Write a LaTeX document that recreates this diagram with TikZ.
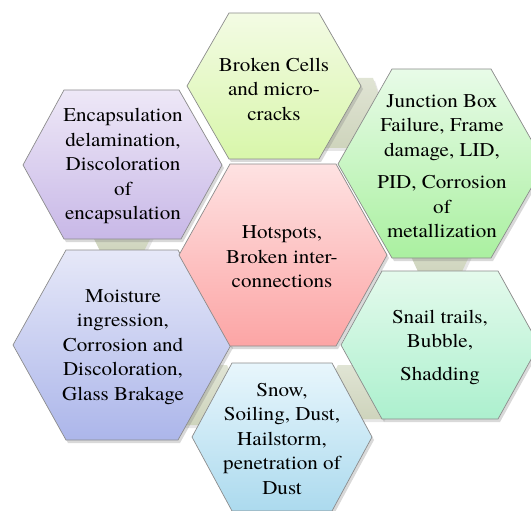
\documentclass[tikz,border=0pt]{standalone}
\usepackage{fontspec}
\setmainfont{texgyretermes}[Extension=.otf,UprightFont=*-regular,FakeStretch=1.08]
\usetikzlibrary{shadows}
\definecolor{pinkA}{RGB}{254,226,226}\definecolor{pinkB}{RGB}{252,165,165}
\definecolor{limeA}{RGB}{243,251,228}\definecolor{limeB}{RGB}{216,246,170}
\definecolor{lilaA}{RGB}{238,232,247}\definecolor{lilaB}{RGB}{200,184,231}
\definecolor{leafA}{RGB}{232,251,232}\definecolor{leafB}{RGB}{170,240,160}
\definecolor{mintA}{RGB}{228,250,236}\definecolor{mintB}{RGB}{172,240,206}
\definecolor{skyA}{RGB}{232,246,252}\definecolor{skyB}{RGB}{172,218,238}
\definecolor{blueA}{RGB}{230,232,248}\definecolor{blueB}{RGB}{172,182,234}
\definecolor{khakiA}{RGB}{224,228,212}\definecolor{khakiB}{RGB}{206,212,188}
\begin{document}
\begin{tikzpicture}[x=1pt,y=-1pt,
    hexa/.style={draw=black!45,line width=0.7pt,
      drop shadow={shadow xshift=2pt,shadow yshift=-3pt,opacity=0.3}},
    link/.style={draw=none,top color=khakiA,bottom color=khakiB,
      drop shadow={shadow xshift=2pt,shadow yshift=-3pt,opacity=0.2}},
    txt/.style={align=center,inner sep=0pt,font=\rmfamily\fontsize{19.5}{24.5}\selectfont}]
  \useasboundingbox (0,0) rectangle (531,511);
  %raccordi
  \path[link] (317,78) -- (373,78) -- (385,113) -- (373,148) -- (317,148) -- (305,113) -- cycle;
  \path[link] (420,224) -- (460,224) -- (472,250) -- (460,276) -- (420,276) -- (408,250) -- cycle;
  \path[link] (338,365) -- (382,365) -- (396,392) -- (382,419) -- (338,419) -- (324,392) -- cycle;
  \path[link] (183,365) -- (227,365) -- (241,395) -- (227,425) -- (183,425) -- (169,395) -- cycle;
  \path[link] (100,219) -- (144,219) -- (152,235) -- (144,251) -- (100,251) -- (92,235) -- cycle;
  %esagoni
  \path[hexa,top color=limeA,bottom color=limeB] (229,13) -- (319,13) -- (361,86) -- (319,159) -- (229,159) -- (187,86) -- cycle;
  \path[hexa,top color=lilaA,bottom color=lilaB] (64,90) -- (179,90) -- (222,165) -- (181,239) -- (64,239) -- (23,165) -- cycle;
  \path[hexa,top color=leafA,bottom color=leafB] (392,69) -- (491,69) -- (545,164) -- (491,258) -- (392,258) -- (338,164) -- cycle;
  \path[hexa,top color=mintA,bottom color=mintB] (382,271) -- (498,271) -- (539,345) -- (498,419) -- (382,419) -- (341,345) -- cycle;
  \path[hexa,top color=skyA,bottom color=skyB] (232,363) -- (332,363) -- (372,437) -- (332,511) -- (232,511) -- (192,437) -- cycle;
  \path[hexa,top color=blueA,bottom color=blueB] (66,250) -- (178,250) -- (231,345) -- (178,440) -- (66,440) -- (13,345) -- cycle;
  \path[hexa,top color=pinkA,bottom color=pinkB] (230,164) -- (336,164) -- (387,255) -- (336,346) -- (230,346) -- (179,255) -- cycle;
  %testi
  \node[txt] (hot) at (282,257) {Hotspots,\\Broken inter-\\connections};
  \node[txt] (cells) at (274,89) {Broken Cells\\and micro-\\cracks};
  \node[txt] (encaps) at (123,166) {Encapsulation\\delamination,\\Discoloration\\of\\encapsulation};
  \node[txt] (junction) at (442,166) {Junction Box\\Failure, Frame\\damage, LID,\\[8pt]PID, Corrosion\\of\\metallization};
  \node[txt] (snail) at (440,347) {Snail trails,\\Bubble,\\[8pt]Shadding};
  \node[txt] (snow) at (282,439) {Snow,\\Soiling, Dust,\\Hailstorm,\\penetration of\\Dust};
  \node[txt] (moisture) at (123,347) {Moisture\\ingression,\\Corrosion and\\Discoloration,\\Glass Brakage};
\end{tikzpicture}
\end{document}
